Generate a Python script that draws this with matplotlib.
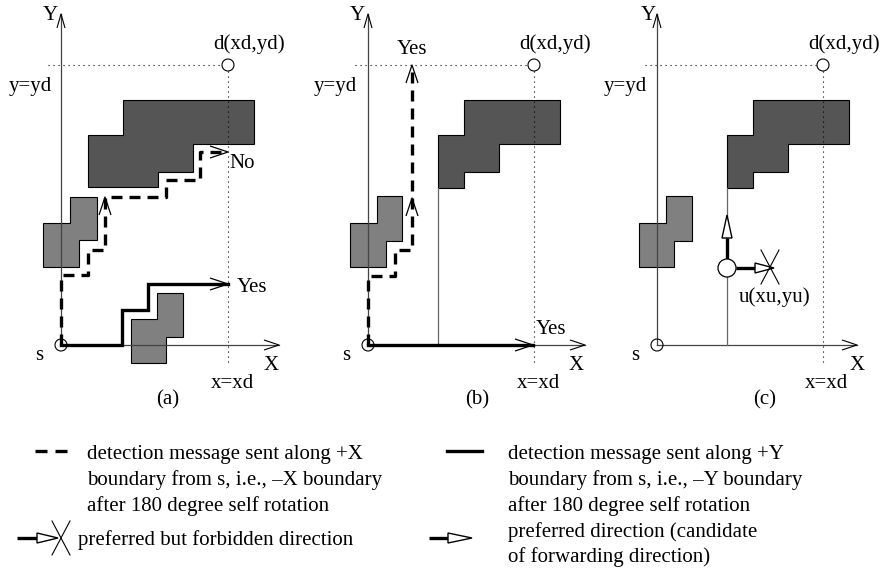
import numpy as np
import matplotlib.pyplot as plt
from matplotlib.patches import Polygon, Circle

plt.rcParams['font.family'] = ['Liberation Serif', 'DejaVu Serif']

# 画布 (像素坐标, y 向下)
W, H = 885, 572
FS = 15

# 三个子图: 源点 s, 目的点 d, 坐标轴
origins = [(61, 345), (368, 345), (657, 345)]
dests = [(228, 65), (534, 65), (823, 65)]
x_axis_end = [279, 585, 857]
y_axis_top = 14
dot_left = [48, 355, 645]
dot_bottom = 363
panel_tags = ['(a)', '(b)', '(c)']
tag_x = [168, 477, 765]
d_label_x = [249, 555, 844]
yyd_x = [30, 335, 625]
xxd_x = [232, 538, 826]
s_label_x = [39, 346, 635]
X_label_x = [271, 576, 857]
Y_label_x = [50, 357, 648]

# 障碍物 (多边形顶点)
big_obstacles = [
    [(123, 100), (254, 100), (254, 144), (193, 144), (193, 172), (158, 172),
     (158, 187), (88, 187), (88, 135), (123, 135)],
    [(464, 100), (560, 100), (560, 144), (499, 144), (499, 172), (464, 172),
     (464, 188), (438, 188), (438, 135), (464, 135)],
    [(753, 100), (849, 100), (849, 144), (788, 144), (788, 172), (753, 172),
     (753, 188), (727, 188), (727, 135), (753, 135)],
]
small_obstacles = [
    [(70, 197), (97, 197), (97, 240), (79, 240), (79, 267), (43, 267), (43, 223), (70, 223)],
    [(377, 196), (402, 196), (402, 241), (386, 241), (386, 267), (350, 267), (350, 223), (377, 223)],
    [(666, 196), (692, 196), (692, 241), (674, 241), (674, 267), (639, 267), (639, 223), (666, 223)],
    [(157, 293), (183, 293), (183, 337), (166, 337), (166, 363), (131, 363), (131, 319), (157, 319)],
]

# 探测消息路径
dashed_paths = [
    [(61, 345), (61, 275), (88, 275), (88, 250), (105, 250), (105, 197), (166, 197),
     (166, 180), (200, 180), (200, 152), (228, 152)],
    [(368, 345), (368, 276), (395, 276), (395, 250), (412, 250), (412, 65)],
]
solid_paths = [
    [(61, 345), (122, 345), (122, 310), (148, 310), (148, 284), (228, 284)],
    [(368, 345), (533, 345)],
]
# 路径上的开口箭头 (尖端, 方向)
path_heads = [((228, 284), (1, 0)), ((228, 152), (1, 0)), ((105, 197), (0, -1)),
              ((412, 198), (0, -1)), ((412, 65), (0, -1)), ((533, 345), (1, 0))]
# (b),(c) 中的细竖线
thin_lines = [[(438, 188), (438, 345)], [(727, 188), (727, 345)]]

# 路径标签
path_labels = [('No', 229, 163), ('Yes', 237, 287), ('Yes', 397, 50), ('Yes', 536, 330)]

# (c) 节点 u
u_node = (727, 268)
u_r = 9

# 图例
legend_left = ['detection message sent along +X',
               'boundary from s, i.e., \u2013X boundary',
               'after 180 degree self rotation']
legend_right = ['detection message sent along +Y',
                'boundary from s, i.e., \u2013Y boundary',
                'after 180 degree self rotation',
                'preferred direction (candidate',
                'of forwarding direction)']
legend_rows = [455, 480, 506, 532, 557]

THICK = 2.4
DASH = (0, (3.3, 2.1))
AXC = '#444444'


def open_head(ax, tip, d, length=18, hw=6, lw=0.9):
    tx, ty = tip
    dx, dy = d
    px, py = -dy, dx
    ax.plot([tx - dx * length + px * hw, tx, tx - dx * length - px * hw],
            [ty - dy * length + py * hw, ty, ty - dy * length - py * hw],
            color='black', lw=lw, zorder=6, solid_capstyle='butt')


def hollow_arrow(ax, start, base, tip, hw=5):
    (sx, sy), (bx, by), (tx, ty) = start, base, tip
    ax.plot([sx, bx], [sy, by], color='black', lw=THICK, zorder=6, solid_capstyle='butt')
    dx, dy = np.sign(tx - bx), np.sign(ty - by)
    px, py = -dy, dx
    tri = [(bx + px * hw, by + py * hw), (tx, ty), (bx - px * hw, by - py * hw)]
    ax.add_patch(Polygon(tri, closed=True, fc='white', ec='black', lw=1.0, zorder=7))


def cross(ax, c, hx=9, hy=17):
    cx, cy = c
    ax.plot([cx - hx, cx + hx], [cy - hy, cy + hy], color='black', lw=0.8, zorder=8)
    ax.plot([cx + hx, cx - hx], [cy - hy, cy + hy], color='black', lw=0.8, zorder=8)


fig = plt.figure(figsize=(W / 100, H / 100), dpi=100)
ax = fig.add_axes([0, 0, 1, 1])
ax.set_xlim(0, W)
ax.set_ylim(H, 0)
ax.axis('off')

# 障碍物
for poly in big_obstacles:
    ax.add_patch(Polygon(poly, closed=True, fc='#555555', ec='black', lw=0.8, zorder=2))
for poly in small_obstacles:
    ax.add_patch(Polygon(poly, closed=True, fc='#808080', ec='black', lw=0.8, zorder=2))

for i in range(3):
    sx, sy = origins[i]
    dx_, dy_ = dests[i]
    # 坐标轴
    ax.plot([sx, sx], [sy, y_axis_top], color=AXC, lw=0.9, zorder=3)
    ax.plot([sx, x_axis_end[i]], [sy, sy], color=AXC, lw=0.9, zorder=3)
    open_head(ax, (sx, y_axis_top), (0, -1), length=14, hw=4, lw=0.8)
    open_head(ax, (x_axis_end[i], sy), (1, 0), length=15, hw=5, lw=0.8)
    # 虚线 y=yd, x=xd
    ax.plot([dot_left[i], dx_ - 6], [dy_, dy_], color='black', lw=0.8,
            ls=(0, (1, 3.5)), zorder=3)
    ax.plot([dx_, dx_], [dy_ + 6, dot_bottom], color='black', lw=0.8,
            ls=(0, (1, 3.5)), zorder=3)
    ax.add_patch(Circle((dx_, dy_), 6, fc='white', ec='black', lw=0.8, zorder=5))
    ax.add_patch(Circle((sx, sy), 6, fc='none', ec='black', lw=0.8, zorder=7))
    # 标签
    ax.text(Y_label_x[i], 16, 'Y', fontsize=FS, ha='center', va='center')
    ax.text(X_label_x[i], 365, 'X', fontsize=FS, ha='center', va='center')
    ax.text(s_label_x[i], 355, 's', fontsize=FS, ha='center', va='center')
    ax.text(d_label_x[i], 44, 'd(xd,yd)', fontsize=FS, ha='center', va='center')
    ax.text(yyd_x[i], 87, 'y=yd', fontsize=FS, ha='center', va='center')
    ax.text(xxd_x[i], 383, 'x=xd', fontsize=FS, ha='center', va='center')
    ax.text(tag_x[i], 400, panel_tags[i], fontsize=FS, ha='center', va='center')

for ln in thin_lines:
    xs, ys = zip(*ln)
    ax.plot(xs, ys, color='#666666', lw=0.9, zorder=3)

for p in dashed_paths:
    xs, ys = zip(*p)
    ax.plot(xs, ys, color='black', lw=THICK, ls=DASH, zorder=5)
for p in solid_paths:
    xs, ys = zip(*p)
    ax.plot(xs, ys, color='black', lw=THICK, zorder=5, solid_joinstyle='miter')
for tip, d in path_heads:
    open_head(ax, tip, d)

for txt, x, y in path_labels:
    ax.text(x, y, txt, fontsize=FS, ha='left', va='center')

# (c) 节点 u 与方向
ux, uy = u_node
hollow_arrow(ax, (ux, uy - u_r), (ux, 238), (ux, 215))
hollow_arrow(ax, (ux + u_r, uy), (755, uy), (774, uy))
cross(ax, (770, uy - 1))
ax.add_patch(Circle(u_node, u_r, fc='white', ec='black', lw=0.9, zorder=8))
ax.text(775, 297, 'u(xu,yu)', fontsize=FS, ha='center', va='center')

# 图例
ax.plot([35, 67], [451, 451], color='black', lw=THICK, ls=(0, (3.6, 2.4)))
ax.plot([447, 482], [451, 451], color='black', lw=THICK)
for txt, y in zip(legend_left, legend_rows):
    ax.text(87, y, txt, fontsize=FS, ha='left', va='center')
for txt, y in zip(legend_right, legend_rows):
    ax.text(508, y, txt, fontsize=FS, ha='left', va='center')
hollow_arrow(ax, (17, 538), (37, 538), (58, 538))
cross(ax, (61, 538))
ax.text(78, 540, 'preferred but forbidden direction', fontsize=FS, ha='left', va='center')
hollow_arrow(ax, (429, 538), (448, 538), (472, 538))

fig.savefig('out.png', dpi=100)
